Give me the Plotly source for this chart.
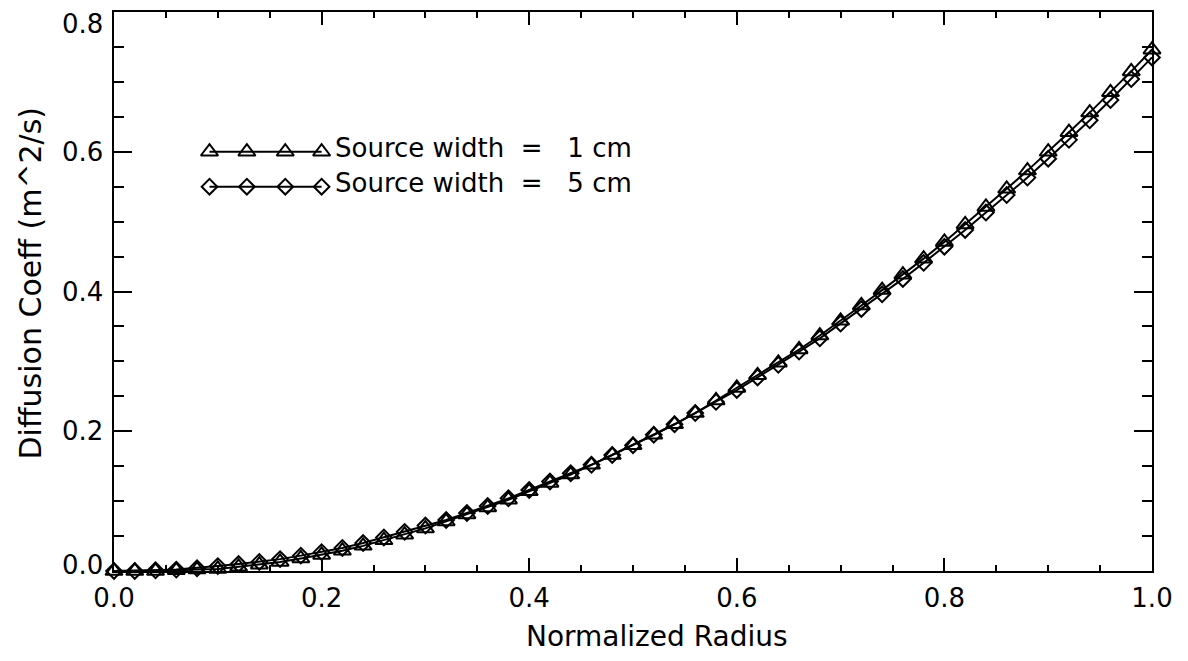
import plotly.graph_objects as go

# ---- data ----
radius = [0.00, 0.02, 0.04, 0.06, 0.08, 0.10, 0.12, 0.14, 0.16, 0.18,
          0.20, 0.22, 0.24, 0.26, 0.28, 0.30, 0.32, 0.34, 0.36, 0.38,
          0.40, 0.42, 0.44, 0.46, 0.48, 0.50, 0.52, 0.54, 0.56, 0.58,
          0.60, 0.62, 0.64, 0.66, 0.68, 0.70, 0.72, 0.74, 0.76, 0.78,
          0.80, 0.82, 0.84, 0.86, 0.88, 0.90, 0.92, 0.94, 0.96, 0.98, 1.00]

coeff_1cm = [0.000, 0.000, 0.000, 0.001, 0.002, 0.003, 0.006, 0.009, 0.013, 0.018,
             0.023, 0.029, 0.036, 0.044, 0.052, 0.061, 0.071, 0.081, 0.091, 0.102,
             0.114, 0.126, 0.138, 0.152, 0.166, 0.180, 0.195, 0.210, 0.226, 0.244,
             0.262, 0.280, 0.298, 0.317, 0.337, 0.358, 0.380, 0.402, 0.424, 0.447,
             0.471, 0.496, 0.521, 0.547, 0.573, 0.600, 0.628, 0.656, 0.685, 0.715, 0.746]

coeff_5cm = [0.000, 0.000, 0.001, 0.002, 0.004, 0.007, 0.010, 0.013, 0.017, 0.022,
             0.027, 0.033, 0.040, 0.048, 0.056, 0.065, 0.073, 0.083, 0.093, 0.104,
             0.116, 0.128, 0.140, 0.152, 0.166, 0.180, 0.195, 0.210, 0.226, 0.242,
             0.259, 0.277, 0.295, 0.314, 0.333, 0.354, 0.375, 0.396, 0.418, 0.441,
             0.464, 0.488, 0.513, 0.538, 0.563, 0.590, 0.617, 0.645, 0.674, 0.704, 0.735]

series_names = ["Source width = 1 cm", "Source width = 5 cm"]
x_ticks = [0.0, 0.2, 0.4, 0.6, 0.8, 1.0]
y_ticks = [0.0, 0.2, 0.4, 0.6, 0.8]
x_title = "Normalized Radius"
y_title = "Diffusion Coeff (m^2/s)"

# ---- legend sample placement (layout, in data units) ----
LEG_X = [0.092, 0.128, 0.165, 0.200]
LEG_Y = [0.600, 0.550]
LEG_TEXT_X = 0.211

FONT = "DejaVu Sans"
BLACK = "black"
symbols = ["triangle-up-open", "diamond-open"]
sizes = [15, 12]
NB = "\u00a0"

fig = go.Figure()
for vals, sym, sz in [(coeff_1cm, symbols[0], sizes[0]), (coeff_5cm, symbols[1], sizes[1])]:
    fig.add_trace(go.Scatter(
        x=radius, y=vals, mode="lines+markers",
        line=dict(color=BLACK, width=2),
        marker=dict(symbol=sym, size=sz, color=BLACK, line=dict(width=2, color=BLACK)),
        showlegend=False, cliponaxis=False))

# legend samples
for i in range(2):
    fig.add_trace(go.Scatter(
        x=LEG_X, y=[LEG_Y[i]] * len(LEG_X), mode="lines+markers",
        line=dict(color=BLACK, width=2),
        marker=dict(symbol=symbols[i], size=sizes[i], color=BLACK, line=dict(width=2, color=BLACK)),
        showlegend=False))
    label = series_names[i].replace(" = ", NB * 2 + "=" + NB * 3)
    fig.add_annotation(x=LEG_TEXT_X, y=LEG_Y[i], xref="x", yref="y",
                       text=label,
                       showarrow=False, xanchor="left", yanchor="middle", yshift=4,
                       font=dict(family=FONT, size=26, color=BLACK))

axis_common = dict(
    showline=True, linecolor=BLACK, linewidth=2, mirror="ticks",
    ticks="inside", tickcolor=BLACK, tickwidth=2,
    showgrid=False, zeroline=False, automargin=False,
    ticklabeloverflow="allow",
    tickfont=dict(family=FONT, size=26, color=BLACK),
)

fig.update_xaxes(**axis_common, range=[0, 1.0], tickvals=x_ticks,
                 ticktext=[f"{v:.1f}" for v in x_ticks], ticklen=13,
                 ticklabelstandoff=3,
                 minor=dict(dtick=0.05, tick0=0, ticks="inside", ticklen=6,
                            tickwidth=2, tickcolor=BLACK))
fig.update_yaxes(**axis_common, range=[0, 0.8], tickvals=y_ticks,
                 showticklabels=False, ticklen=18,
                 minor=dict(dtick=0.05, tick0=0, ticks="inside", ticklen=10,
                            tickwidth=2, tickcolor=BLACK))

# y tick labels (end labels nudged inward as in the reference)
for v in y_ticks:
    shift = -12 if v == y_ticks[-1] else (6 if v == y_ticks[0] else 0)
    fig.add_annotation(text=f"{v:.1f}", xref="paper", yref="y", x=0, y=v,
                       xshift=-9, yshift=shift, showarrow=False,
                       xanchor="right", yanchor="middle",
                       font=dict(family=FONT, size=26, color=BLACK))

fig.add_annotation(text=x_title, xref="paper", yref="paper", x=0.5, y=0,
                   xshift=24, yshift=-65, showarrow=False,
                   xanchor="center", yanchor="middle",
                   font=dict(family=FONT, size=28, color=BLACK))
fig.add_annotation(text=y_title, xref="paper", yref="paper", x=0, y=0.5,
                   xshift=-84, yshift=8, showarrow=False, textangle=-90,
                   xanchor="center", yanchor="middle",
                   font=dict(family=FONT, size=30, color=BLACK))

# page body adds an 8px offset; figure sized to fill the 1188x661 window
fig.update_layout(
    width=1180, height=653,
    margin=dict(l=106, r=36, t=4, b=90, autoexpand=False),
    paper_bgcolor="white", plot_bgcolor="white",
    showlegend=False,
)

fig.write_html("out.html")
